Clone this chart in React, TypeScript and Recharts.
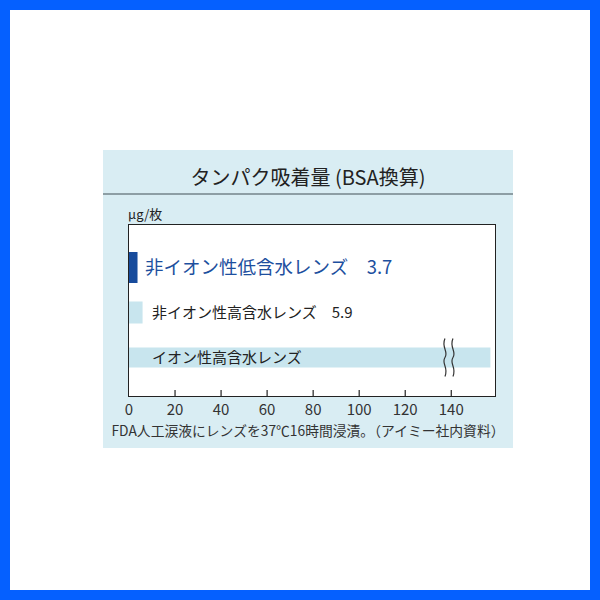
import React from "react";
import { Bar, BarChart, LabelList, XAxis, YAxis } from "recharts";

const categories = ["非イオン性低含水レンズ", "非イオン性高含水レンズ", "イオン性高含水レンズ"];
const values = [3.7, 5.9, 157];
const valueLabels = ["3.7", "5.9", ""];
const xTicks = [0, 20, 40, 60, 80, 100, 120, 140];
const breakAt = 139;

const data = categories.map((name, i) => ({ name, value: values[i], label: valueLabels[i] }));

// per-row look
const barFill = ["#174b9c", "#c8e5ee", "#c8e5ee"];
const barThick = [31, 22, 20];
const labelDx = [16, 23, 23];
const labelSize = [18.5, 15, 15];
const labelColor = ["#1d4f9e", "#222", "#222"];

const FONT = "'Noto Sans CJK JP', 'Noto Sans', sans-serif";

const BarShape = (props: any) => {
  const { x, y, width, height, index } = props;
  const t = barThick[index];
  const cy = y + height / 2;
  const rect = <rect x={x} y={cy - t / 2} width={width} height={t} fill={barFill[index]} />;
  if (index !== 2) return rect;
  const bx = x + (width * breakAt) / values[index];
  const wave = (ox: number) =>
    `M${ox},${cy - 19} C${ox - 4},${cy - 10} ${ox + 4},${cy - 6} ${ox},${cy} C${ox - 4},${cy + 6} ${ox + 4},${cy + 10} ${ox},${cy + 19}`;
  return (
    <g>
      {rect}
      <path d={wave(bx - 4)} stroke="#333" strokeWidth={1.2} fill="none" />
      <path d={wave(bx + 4)} stroke="#333" strokeWidth={1.2} fill="none" />
    </g>
  );
};

const RowLabel = (props: any) => {
  const { x, y, height, index } = props;
  const d = data[index];
  return (
    <text
      x={x + labelDx[index]}
      y={y + height / 2}
      dy="0.36em"
      fontFamily={FONT}
      fontSize={labelSize[index]}
      fill={labelColor[index]}
    >
      {d.name}
      {d.label ? `　${d.label}` : ""}
    </text>
  );
};

const Tick = (props: any) => {
  const { x, y, payload } = props;
  return (
    <g>
      {payload.value !== 0 && <line x1={x} x2={x} y1={y - 6} y2={y} stroke="#222" strokeWidth={1.2} />}
      <text x={x} y={y + 19} textAnchor="middle" fontFamily={FONT} fontSize={15} fill="#333">
        {payload.value}
      </text>
    </g>
  );
};

export default function App() {
  return (
    <div style={{ position: "absolute", left: 0, top: 0, width: 600, height: 600, background: "#fff", fontFamily: FONT }}>
      <div style={{ position: "absolute", left: 103, top: 150, width: 410, height: 298, background: "#d9edf3" }} />
      <div
        style={{ position: "absolute", left: 103, top: 160, width: 410, textAlign: "center", fontSize: 20, color: "#222", lineHeight: "34px" }}
      >
        タンパク吸着量 (BSA換算)
      </div>
      <div style={{ position: "absolute", left: 103, top: 193, width: 410, height: 2, background: "#8d9ea4" }} />
      <div style={{ position: "absolute", left: 128, top: 206, fontSize: 13, color: "#222", lineHeight: "16px" }}>μg/枚</div>
      <div
        style={{ position: "absolute", left: 128, top: 224, width: 368, height: 173, background: "#fff", border: "1.5px solid #222", boxSizing: "border-box" }}
      />
      <div
        style={{ position: "absolute", left: 103, top: 421, width: 410, textAlign: "center", fontSize: 13.8, color: "#333", lineHeight: "18px" }}
      >
        FDA人工涙液にレンズを37℃16時間浸漬。（アイミー社内資料）
      </div>
      <div style={{ position: "absolute", left: 0, top: 0 }}>
        <BarChart
          width={600}
          height={600}
          data={data}
          layout="vertical"
          margin={{ top: 225, right: 105, bottom: 174, left: 129 }}
        >
          <XAxis
            type="number"
            domain={[0, 159]}
            ticks={xTicks}
            axisLine={false}
            tickLine={false}
            tickSize={0}
            tickMargin={0}
            height={30}
            tick={<Tick />}
            interval={0}
          />
          <YAxis type="category" dataKey="name" hide width={0} padding={{ top: 20, bottom: 16 }} />
          <Bar dataKey="value" shape={<BarShape />} isAnimationActive={false}>
            <LabelList dataKey="name" content={<RowLabel />} />
          </Bar>
        </BarChart>
      </div>
      <div
        style={{ position: "absolute", left: 0, top: 0, width: 600, height: 600, border: "10px solid #0560ff", boxSizing: "border-box", pointerEvents: "none" }}
      />
    </div>
  );
}
